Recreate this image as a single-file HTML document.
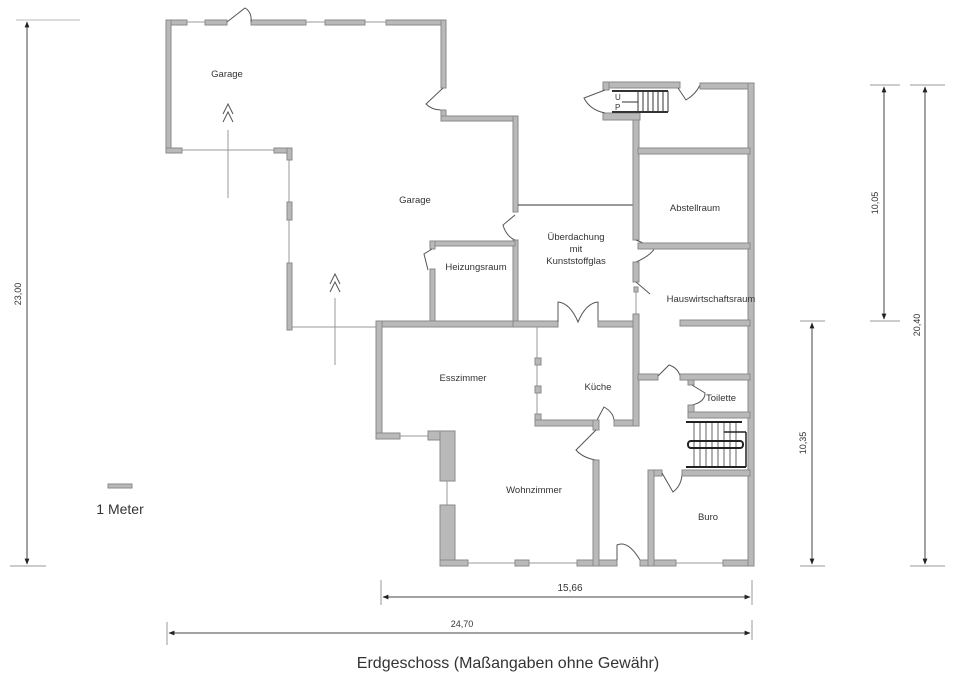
<!DOCTYPE html>
<html><head><meta charset="utf-8"><style>
html,body{margin:0;padding:0;background:#fff;width:960px;height:685px;overflow:hidden}
svg{display:block}
text{font-family:"Liberation Sans",sans-serif;fill:#333}
.w{fill:#b9b9b9;stroke:#8a8a8a;stroke-width:1}
.t{stroke:#999;stroke-width:1;fill:none}
.d{stroke:#555;stroke-width:1;fill:none}
.dim{stroke:#444;stroke-width:1}
</style></head><body>
<svg width="960" height="685" viewBox="0 0 960 685" xmlns="http://www.w3.org/2000/svg">
<defs>
<marker id="a" viewBox="0 0 10 10" refX="9" refY="5" markerWidth="6" markerHeight="6" orient="auto-start-reverse"><path d="M0,1 L10,5 L0,9z" fill="#222"/></marker>
</defs>
<g class="dim">
<line x1="16" y1="20" x2="80" y2="20" stroke="#bbb"/>
<line x1="27" y1="22" x2="27" y2="564" marker-start="url(#a)" marker-end="url(#a)"/>
<line x1="10" y1="566" x2="46" y2="566" stroke="#999"/>
<line x1="870" y1="85" x2="900" y2="85" stroke="#999"/>
<line x1="884" y1="87" x2="884" y2="319" marker-start="url(#a)" marker-end="url(#a)"/>
<line x1="870" y1="321" x2="900" y2="321" stroke="#999"/>
<line x1="910" y1="85" x2="945" y2="85" stroke="#999"/>
<line x1="925" y1="87" x2="925" y2="564" marker-start="url(#a)" marker-end="url(#a)"/>
<line x1="910" y1="566" x2="945" y2="566" stroke="#999"/>
<line x1="800" y1="321" x2="825" y2="321" stroke="#999"/>
<line x1="812" y1="323" x2="812" y2="564" marker-start="url(#a)" marker-end="url(#a)"/>
<line x1="800" y1="566" x2="825" y2="566" stroke="#999"/>
<line x1="381" y1="580" x2="381" y2="605" stroke="#999"/>
<line x1="383" y1="597" x2="750" y2="597" marker-start="url(#a)" marker-end="url(#a)"/>
<line x1="752" y1="580" x2="752" y2="605" stroke="#999"/>
<line x1="167" y1="622" x2="167" y2="645" stroke="#999"/>
<line x1="169" y1="633" x2="750" y2="633" marker-start="url(#a)" marker-end="url(#a)"/>
<line x1="752" y1="620" x2="752" y2="640" stroke="#999"/>
</g>
<text x="21" y="294" font-size="9" transform="rotate(-90 21 294)" text-anchor="middle">23,00</text>
<text x="878" y="203" font-size="9" transform="rotate(-90 878 203)" text-anchor="middle">10,05</text>
<text x="920" y="325" font-size="9" transform="rotate(-90 920 325)" text-anchor="middle">20,40</text>
<text x="806" y="443" font-size="9" transform="rotate(-90 806 443)" text-anchor="middle">10,35</text>
<text x="570" y="591" font-size="10" text-anchor="middle">15,66</text>
<text x="462" y="627" font-size="9" text-anchor="middle">24,70</text>
<text x="508" y="668" font-size="16" text-anchor="middle">Erdgeschoss  (Maßangaben ohne Gewähr)</text>
<rect x="108" y="484" width="24" height="4" class="w"/>
<text x="120" y="514" font-size="14" text-anchor="middle">1 Meter</text>

<g>
<rect class="w" x="166" y="20" width="21" height="5"/>
<rect class="w" x="205" y="20" width="22" height="5"/>
<rect class="w" x="251" y="20" width="55" height="5"/>
<rect class="w" x="325" y="20" width="40" height="5"/>
<rect class="w" x="386" y="20" width="60" height="5"/>
<line class="t" x1="187" y1="22" x2="205" y2="22"/><line class="t" x1="306" y1="22" x2="325" y2="22"/><line class="t" x1="365" y1="22" x2="386" y2="22"/>
<path class="d" d="M227,22 L245,8 Q252,12 251,22"/>
<rect class="w" x="166" y="20" width="5" height="133"/>
<rect class="w" x="166" y="148" width="16" height="5"/>
<line class="t" x1="182" y1="150" x2="275" y2="150"/>
<rect class="w" x="274" y="148" width="18" height="5"/>
<rect class="w" x="287" y="148" width="5" height="12"/>
<line class="t" x1="289" y1="160" x2="289" y2="202"/>
<rect class="w" x="287" y="202" width="5" height="18"/>
<line class="t" x1="289" y1="220" x2="289" y2="263"/>
<rect class="w" x="287" y="263" width="5" height="67"/>
<line class="t" x1="292" y1="327" x2="376" y2="327"/>
<rect class="w" x="441" y="20" width="5" height="68"/>
<path class="d" d="M443,88 L426,104 Q432,110 441,110"/>
<rect class="w" x="441" y="110" width="5" height="10"/>
<rect class="w" x="441" y="116" width="77" height="5"/>
<rect class="w" x="513" y="116" width="5" height="96"/>
<path class="d" d="M515,215 L503,225 Q506,236 515,240"/>
<rect class="w" x="513" y="240" width="5" height="85"/>
<line class="t" x1="228" y1="130" x2="228" y2="198"/>
<path class="d" d="M223,114 L228,104 L233,114 M223,122 L228,112 L233,122" stroke="#777"/>
<line class="t" x1="335" y1="298" x2="335" y2="365"/>
<path class="d" d="M330,284 L335,274 L340,284 M330,292 L335,282 L340,292" stroke="#777"/>
<rect class="w" x="430" y="241" width="85" height="5"/>
<rect class="w" x="430" y="241" width="5" height="8"/>
<path class="d" d="M432,249 L424,254 L428,270"/>
<rect class="w" x="430" y="269" width="5" height="56"/>
</g>

<g>
<rect class="w" x="376" y="321" width="166" height="6"/>
<rect class="w" x="376" y="321" width="6" height="118"/>
<rect class="w" x="376" y="433" width="24" height="6"/>
<line class="t" x1="400" y1="436" x2="428" y2="436"/>
<rect class="w" x="428" y="431" width="27" height="9"/>
<rect class="w" x="440" y="431" width="15" height="50"/>
<line class="t" x1="447" y1="481" x2="447" y2="505"/>
<rect class="w" x="440" y="505" width="15" height="61"/>
<rect class="w" x="440" y="560" width="28" height="6"/>
<line class="t" x1="468" y1="563" x2="515" y2="563"/>
<rect class="w" x="515" y="560" width="14" height="6"/>
<line class="t" x1="529" y1="563" x2="577" y2="563"/>
<rect class="w" x="577" y="560" width="40" height="6"/>
<path class="d" d="M617,560 L617,545 Q628,540 640,560"/>
<rect class="w" x="640" y="560" width="36" height="6"/>
<line class="t" x1="676" y1="563" x2="723" y2="563"/>
<rect class="w" x="723" y="560" width="31" height="6"/>
<line x1="518" y1="205" x2="634" y2="205" stroke="#333"/>
<rect class="w" x="513" y="321" width="45" height="6"/>
<path class="d" d="M558,322 L558,302 Q570,303 578,322 Q586,303 598,302 L598,322"/>
<rect class="w" x="598" y="321" width="40" height="6"/>
<line class="t" x1="537" y1="327" x2="537" y2="415" stroke="#ccc"/>
<rect class="w" x="535" y="358" width="6" height="7"/>
<rect class="w" x="535" y="386" width="6" height="7"/>
<rect class="w" x="535" y="414" width="6" height="12"/>
<rect class="w" x="535" y="420" width="62" height="6"/>
<path class="d" d="M597,420 L604,407 Q613,412 614,420"/>
<rect class="w" x="614" y="420" width="24" height="6"/>
<rect class="w" x="593" y="420" width="6" height="10"/>
<path class="d" d="M596,430 L576,450 Q583,458 596,460"/>
<rect class="w" x="593" y="460" width="6" height="106"/>
<rect class="w" x="633" y="120" width="6" height="120"/>
<path class="d" d="M636,240 L655,248 Q650,256 636,262"/>
<rect class="w" x="633" y="262" width="6" height="20"/>
<path class="d" d="M636,282 L650,294"/>
<rect class="w" x="634" y="287" width="4" height="5"/>
<line class="t" x1="636" y1="292" x2="636" y2="314"/>
<rect class="w" x="633" y="314" width="6" height="112"/>
<!-- top stair -->
<rect class="w" x="603" y="82" width="77" height="6"/>
<rect class="w" x="603" y="82" width="6" height="8"/>
<rect class="w" x="603" y="113" width="37" height="7"/>
<path class="d" d="M605,90 L584,98 Q590,110 605,113"/>
<g stroke="#333" stroke-width="1">
<line x1="612" y1="91" x2="668" y2="91" stroke-width="2"/>
<line x1="612" y1="112" x2="668" y2="112" stroke-width="2"/>
<line x1="622" y1="102" x2="638" y2="102"/>
<line x1="638" y1="91" x2="638" y2="112"/><line x1="643" y1="91" x2="643" y2="112"/><line x1="648" y1="91" x2="648" y2="112"/><line x1="653" y1="91" x2="653" y2="112"/><line x1="658" y1="91" x2="658" y2="112"/><line x1="663" y1="91" x2="663" y2="112"/><line x1="668" y1="91" x2="668" y2="112"/>
</g>
<text x="615" y="100" font-size="8">U</text>
<text x="615" y="110" font-size="8">P</text>
<path class="d" d="M678,88 L686,100 Q696,94 700,85"/>
<rect class="w" x="700" y="83" width="54" height="6"/>
<rect class="w" x="748" y="83" width="6" height="483"/>
<rect class="w" x="638" y="148" width="112" height="6"/>
<rect class="w" x="638" y="243" width="112" height="6"/>
<rect class="w" x="680" y="320" width="70" height="6"/>
<rect class="w" x="638" y="374" width="20" height="6"/>
<path class="d" d="M658,376 L669,365 Q678,368 680,376"/>
<rect class="w" x="680" y="374" width="70" height="6"/>
<rect class="w" x="688" y="380" width="6" height="5"/>
<path class="d" d="M692,385 L705,393 Q705,402 692,405"/>
<rect class="w" x="688" y="405" width="6" height="12"/>
<rect class="w" x="688" y="412" width="62" height="6"/>
<g stroke="#222">
<line x1="686" y1="422" x2="742" y2="422" stroke-width="2"/>
<line x1="686" y1="467" x2="746" y2="467" stroke-width="2"/>
<rect x="688" y="441" width="55" height="7" rx="3" fill="none" stroke-width="2"/>
<line x1="724" y1="432" x2="746" y2="432" stroke-width="1.5"/>
<line x1="746" y1="432" x2="746" y2="467" stroke-width="1.5"/>
<line x1="694" y1="422" x2="694" y2="467" stroke-width=".7"/><line x1="700" y1="422" x2="700" y2="467" stroke-width=".7"/><line x1="706" y1="422" x2="706" y2="467" stroke-width=".7"/><line x1="712" y1="422" x2="712" y2="467" stroke-width=".7"/><line x1="718" y1="422" x2="718" y2="467" stroke-width=".7"/><line x1="724" y1="422" x2="724" y2="467" stroke-width=".7"/><line x1="730" y1="422" x2="730" y2="467" stroke-width=".7"/><line x1="736" y1="422" x2="736" y2="467" stroke-width=".7"/>
</g>
<rect class="w" x="648" y="470" width="14" height="6"/>
<path class="d" d="M662,473 L673,492 Q682,485 682,473"/>
<rect class="w" x="682" y="470" width="68" height="6"/>
<rect class="w" x="648" y="470" width="6" height="96"/>
</g>

<g font-size="9.5" text-anchor="middle">
<text x="227" y="77">Garage</text>
<text x="415" y="203">Garage</text>
<text x="476" y="270">Heizungsraum</text>
<text x="576" y="240">Überdachung</text>
<text x="576" y="252">mit</text>
<text x="576" y="264">Kunststoffglas</text>
<text x="695" y="211">Abstellraum</text>
<text x="711" y="302">Hauswirtschaftsraum</text>
<text x="463" y="381">Esszimmer</text>
<text x="598" y="390">Küche</text>
<text x="721" y="401">Toilette</text>
<text x="534" y="493">Wohnzimmer</text>
<text x="708" y="520">Buro</text>
</g>
</svg>
</body></html>
